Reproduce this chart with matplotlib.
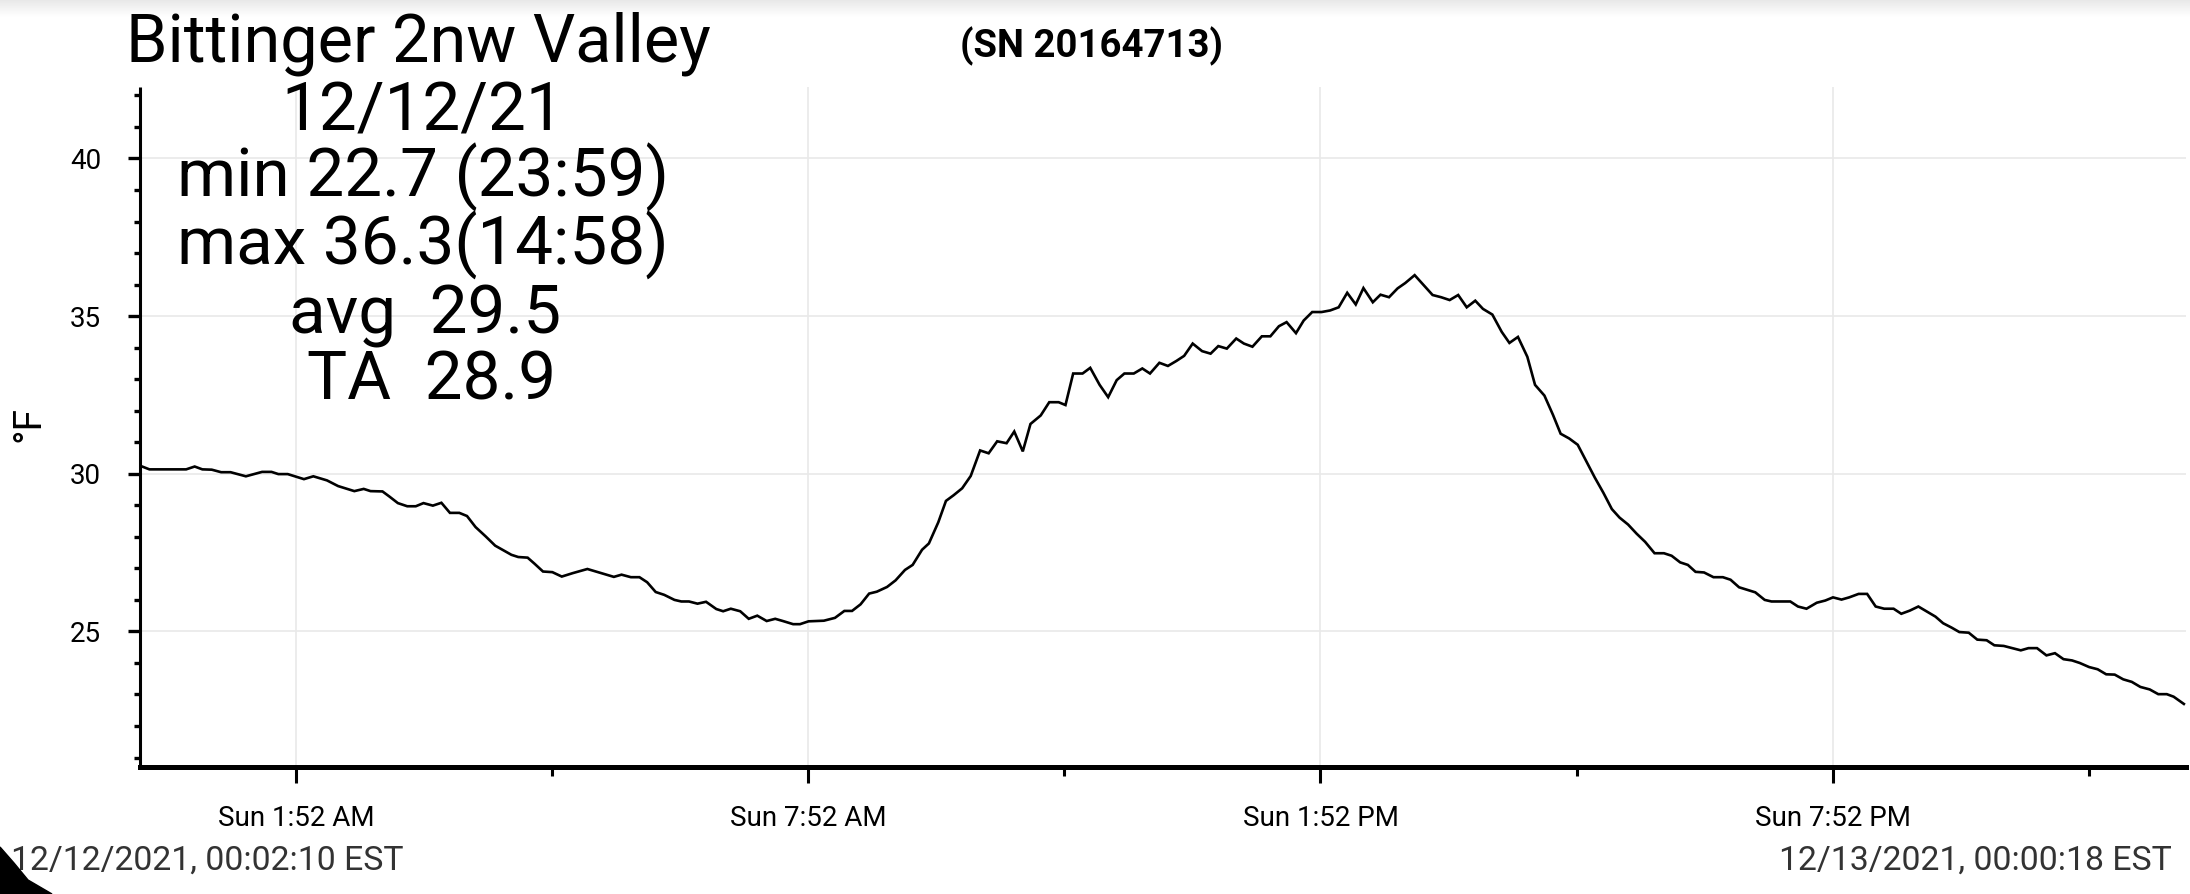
import datetime as dt
import numpy as np
import matplotlib
matplotlib.use("Agg")
import matplotlib.pyplot as plt
import matplotlib.dates as mdates
from matplotlib.patches import Polygon

# ---------------- data ----------------
hours = [0.036, 0.15, 0.58, 0.68, 0.77, 0.88, 0.99, 1.10, 1.28, 1.47, 1.58, 1.66, 1.77,
         1.96, 2.07, 2.23, 2.36, 2.55, 2.66, 2.74, 2.88, 2.96, 3.06, 3.17, 3.27, 3.36,
         3.47, 3.57, 3.67, 3.78, 3.87, 3.97, 4.09, 4.20, 4.39, 4.47, 4.58, 4.66, 4.76,
         4.87, 4.98, 5.11, 5.28, 5.44, 5.59, 5.68, 5.79, 5.89, 5.98, 6.08, 6.18, 6.30,
         6.38, 6.47, 6.57, 6.67, 6.79, 6.87, 6.96, 7.07, 7.17, 7.27, 7.38, 7.48, 7.57,
         7.69, 7.77, 7.87, 8.05, 8.18, 8.29, 8.38, 8.48, 8.58, 8.67, 8.79, 8.89, 9.00,
         9.09, 9.20, 9.28, 9.39, 9.48, 9.57, 9.67, 9.77, 9.88, 9.98, 10.08, 10.19, 10.28,
         10.38, 10.47, 10.59, 10.69, 10.80, 10.88, 10.97, 11.08, 11.17, 11.28, 11.38,
         11.48, 11.57, 11.68, 11.78, 11.87, 11.98, 12.08, 12.18, 12.27, 12.37, 12.48,
         12.58, 12.67, 12.77, 12.88, 12.97, 13.07, 13.18, 13.28, 13.38, 13.47, 13.58,
         13.67, 13.77, 13.88, 13.98, 14.08, 14.18, 14.28, 14.37, 14.48, 14.57, 14.67,
         14.77, 14.86, 14.97, 15.07, 15.18, 15.28, 15.38, 15.48, 15.58, 15.68, 15.77,
         15.88, 15.99, 16.08, 16.18, 16.29, 16.38, 16.49, 16.59, 16.68, 16.78, 16.88,
         16.98, 17.08, 17.18, 17.28, 17.37, 17.47, 17.57, 17.67, 17.78, 17.89, 17.98,
         18.08, 18.17, 18.26, 18.36, 18.47, 18.58, 18.67, 18.77, 18.96, 19.07, 19.15,
         19.37, 19.46, 19.56, 19.68, 19.78, 19.87, 19.97, 20.06, 20.17, 20.27, 20.37,
         20.47, 20.58, 20.67, 20.77, 20.87, 20.97, 21.07, 21.16, 21.26, 21.35, 21.46,
         21.56, 21.67, 21.76, 21.87, 21.97, 22.07, 22.16, 22.26, 22.37, 22.47, 22.57,
         22.67, 22.76, 22.87, 22.97, 23.07, 23.17, 23.27, 23.37, 23.47, 23.58, 23.68,
         23.78, 23.86, 23.98]
temps_f = [30.26, 30.14, 30.14, 30.23, 30.14, 30.13, 30.05, 30.05, 29.92, 30.06, 30.06, 29.99, 29.99,
           29.83, 29.92, 29.79, 29.61, 29.45, 29.52, 29.45, 29.44, 29.28, 29.07, 28.97, 28.97, 29.07,
           28.99, 29.08, 28.76, 28.76, 28.66, 28.31, 28.01, 27.72, 27.43, 27.36, 27.34, 27.15, 26.90,
           26.88, 26.74, 26.85, 26.98, 26.85, 26.73, 26.80, 26.72, 26.72, 26.56, 26.25, 26.16, 26.00,
           25.95, 25.95, 25.88, 25.94, 25.71, 25.64, 25.72, 25.64, 25.40, 25.50, 25.33, 25.40, 25.33,
           25.23, 25.23, 25.32, 25.34, 25.43, 25.65, 25.65, 25.86, 26.20, 26.26, 26.41, 26.62, 26.95,
           27.11, 27.59, 27.79, 28.46, 29.14, 29.32, 29.54, 29.93, 30.74, 30.65, 31.03, 30.97, 31.34,
           30.71, 31.58, 31.85, 32.27, 32.27, 32.18, 33.18, 33.18, 33.36, 32.82, 32.43,
           32.97, 33.18, 33.18, 33.34, 33.18, 33.52, 33.42, 33.58, 33.74, 34.13, 33.89,
           33.81, 34.05, 33.97, 34.29, 34.13, 34.03, 34.36, 34.36, 34.68, 34.81, 34.46,
           34.86, 35.13, 35.13, 35.18, 35.28, 35.74, 35.37, 35.89, 35.44, 35.68, 35.60,
           35.88, 36.05, 36.30, 36.00, 35.67, 35.60, 35.51, 35.67, 35.28, 35.49, 35.23,
           35.05, 34.50, 34.15, 34.34, 33.71, 32.82, 32.48, 31.87, 31.27, 31.12, 30.92,
           30.40, 29.88, 29.40, 28.88, 28.61, 28.39, 28.10, 27.84, 27.48, 27.48, 27.40,
           27.19, 27.11, 26.89, 26.87, 26.72, 26.72, 26.64, 26.40, 26.24, 26.00, 25.95,
           25.95, 25.79, 25.72, 25.91, 25.98, 26.08, 26.01, 26.08, 26.19, 26.19, 25.79,
           25.72, 25.72, 25.56, 25.66, 25.79, 25.63, 25.47, 25.26, 25.12, 24.98, 24.96,
           24.74, 24.72, 24.56, 24.54, 24.47, 24.40, 24.47, 24.47, 24.24, 24.31, 24.12,
           24.08, 24.00, 23.87, 23.80, 23.64, 23.63, 23.48, 23.40, 23.24, 23.16, 23.01,
           23.01, 22.93, 22.70]

major_tick_hours = [1 + 52 / 60, 7 + 52 / 60, 13 + 52 / 60, 19 + 52 / 60]
major_tick_labels = ["Sun 1:52 AM", "Sun 7:52 AM", "Sun 1:52 PM", "Sun 7:52 PM"]
minor_tick_hours = [4 + 52 / 60, 10 + 52 / 60, 16 + 52 / 60, 22 + 52 / 60]
y_major = [25, 30, 35, 40]
y_minor = list(range(21, 43))

title_text = "Bittinger 2nw Valley"
serial_text = "(SN 20164713)"
stats_lines = ["12/12/21", "min 22.7 (23:59)", "max 36.3(14:58)", "avg  29.5", "TA  28.9"]
start_label = "12/12/2021, 00:02:10 EST"
end_label = "12/13/2021, 00:00:18 EST"
y_label = "°F"
x_start_hours = 2 / 60 + 10 / 3600
x_end_hours = 24 + 18 / 3600
y_limits = (20.70, 42.28)

# ---------------- plotting ----------------
plt.rcParams['font.family'] = ['Roboto', 'DejaVu Sans']

W, H = 2190, 894
fig = plt.figure(figsize=(W / 100, H / 100), dpi=100)
fig.patch.set_facecolor("white")

base = dt.datetime(2021, 12, 12)
def to_dt(h):
    return base + dt.timedelta(hours=h)

times = [to_dt(h) for h in hours]

ax = fig.add_axes([139.7 / W, (H - 767) / H, (2186 - 139.7) / W, (767 - 86.6) / H])
ax.plot(times, temps_f, color="black", lw=1.9, solid_joinstyle="miter")
ax.set_xlim(to_dt(x_start_hours), to_dt(x_end_hours))
ax.set_ylim(*y_limits)

ax.xaxis.set_major_locator(matplotlib.ticker.FixedLocator([mdates.date2num(to_dt(h)) for h in major_tick_hours]))
ax.xaxis.set_minor_locator(matplotlib.ticker.FixedLocator([mdates.date2num(to_dt(h)) for h in minor_tick_hours]))
ax.xaxis.set_major_formatter(matplotlib.ticker.FixedFormatter(major_tick_labels))
ax.set_yticks(y_major)
ax.set_yticks(y_minor, minor=True)

for s in ["top", "right"]:
    ax.spines[s].set_visible(False)
ax.spines["left"].set_linewidth(2.2)
ax.spines["bottom"].set_linewidth(3.6)
ax.spines["left"].set_capstyle("butt")

ax.tick_params(axis="x", which="major", length=11.5, width=2.2, pad=16, labelsize=20, colors="black")
ax.tick_params(axis="x", which="minor", length=6.5, width=2.2)
ax.tick_params(axis="y", which="major", length=8.6, width=2.4, pad=19, labelsize=20, colors="black")
ax.tick_params(axis="y", which="minor", length=4.5, width=2.4)

ax.grid(True, which="major", color="#e9e9e9", lw=1.2)
ax.set_axisbelow(True)

def fx(x):
    return x / W
def fy(y):
    return 1 - y / H

fig.text(fx(40), fy(424), y_label, fontsize=28, rotation=90, rotation_mode="anchor",
         ha="center", va="baseline")

fig.text(fx(126), fy(61), title_text, fontsize=48, ha="left", va="baseline")
fig.text(fx(1091), fy(57), serial_text, fontsize=27.5, fontweight="bold", ha="center", va="baseline")

baselines = [130, 197, 265, 333, 400]
centers = [423, 423, 423, 425, 432]
for line, b, c in zip(stats_lines, baselines, centers):
    fig.text(fx(c), fy(b), line, fontsize=48.5, ha="center", va="baseline")

fig.text(fx(11), fy(870), start_label, fontsize=24.3, color="#333333", ha="left", va="baseline")
fig.text(fx(2172), fy(870), end_label, fontsize=24.3, color="#333333", ha="right", va="baseline")

# screenshot artefacts: top shade and rounded corner
gax = fig.add_axes([0, 1 - 17 / H, 1, 17 / H])
grad = np.linspace(0.91, 1.0, 50).reshape(-1, 1)
gax.imshow(grad, aspect="auto", cmap="gray", vmin=0, vmax=1, extent=[0, 1, 0, 1], origin="upper")
gax.axis("off")
corner = Polygon([(fx(0), fy(847)), (fx(14), fy(863)), (fx(28), fy(880)), (fx(52), fy(894)), (fx(0), fy(894))],
                 closed=True, transform=fig.transFigure, color="black", zorder=10)
fig.patches.append(corner)

fig.savefig("out.png", dpi=100, facecolor="white")
